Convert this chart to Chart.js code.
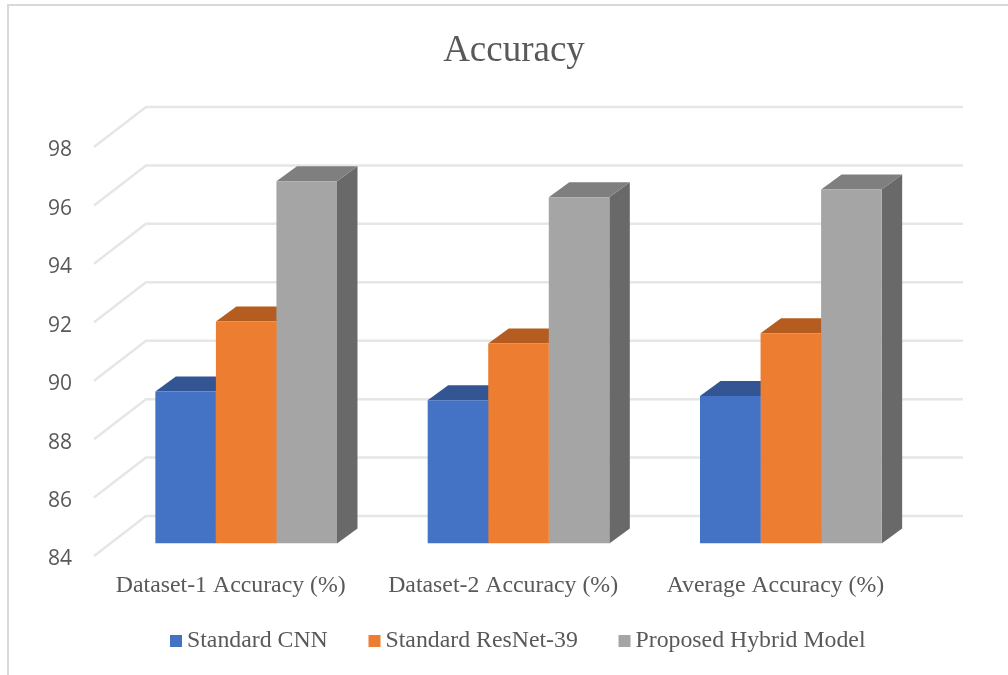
<!DOCTYPE html>
<html>
<head>
<meta charset="utf-8">
<style>
  html, body { margin: 0; padding: 0; background: #fff; overflow: hidden; }
  #wrap { position: relative; width: 1008px; height: 675px; }
  #frame { position: absolute; left: 7px; top: 4px; right: 0; bottom: 0;
           border-left: 2px solid #d9d9d9; border-top: 2px solid #d9d9d9; }
  canvas { position: absolute; left: 0; top: 0; }
</style>
<script src="https://cdn.jsdelivr.net/npm/chart.js@4"></script>
</head>
<body>
<div id="wrap">
  <div id="frame"></div>
  <canvas id="chart" width="1008" height="675"></canvas>
</div>
<script>
const categories = ['Dataset-1 Accuracy (%)', 'Dataset-2 Accuracy (%)', 'Average Accuracy (%)'];
const seriesNames = ['Standard CNN', 'Standard ResNet-39', 'Proposed Hybrid Model'];
const standardCnn = [89.2, 88.9, 89.05];
const standardResNet = [91.6, 90.85, 91.2];
const proposedHybrid = [96.4, 95.85, 96.12];
const frontColors = ['#4472c4', '#ed7d31', '#a5a5a5'];
const topColors = ['#335593', '#b55d20', '#7f7f7f'];
const sideColors = ['#2d4c85', '#a35420', '#696969'];
const axisMin = 84;
const axisMax = 98;
const axisStep = 2;

const TEXT = '#595959';
const SERIF = '"Liberation Serif", serif';

// Depth of the plot walls and of the bars, in pixels.
const WALL = { dx: 52, dy: -40 };
const BAR_OFFSET = { dx: 16, dy: -12.5 };
const BAR_DEPTH = { dx: 20.5, dy: -15 };

function poly(ctx, pts, fill) {
  ctx.beginPath();
  pts.forEach((p, i) => i ? ctx.lineTo(p[0], p[1]) : ctx.moveTo(p[0], p[1]));
  ctx.closePath();
  ctx.fillStyle = fill;
  ctx.fill();
}

// Nudges an axis' labels by a fixed amount when the scale paints them.
function nudgeLabels(scale, dx, dy) {
  if (scale.$nudged) return;
  scale.$nudged = true;
  const paint = scale.drawLabels;
  scale.drawLabels = function (area) {
    const c = this.ctx;
    c.save();
    c.translate(dx, dy);
    paint.call(this, area);
    c.restore();
  };
}

const depthPlugin = {
  id: 'depth',
  afterLayout(chart) {
    // Centre the title on the framed panel rather than on the plot.
    chart.titleBlock.left = 8;
    chart.titleBlock.right = 1020;
  },
  beforeDatasetsDraw(chart) {
    const { ctx, chartArea, scales } = chart;
    ctx.save();
    // Side wall and back wall rules at each tick value.
    ctx.strokeStyle = '#e6e6e6';
    ctx.lineWidth = 2.5;
    ctx.lineJoin = 'round';
    scales.y.ticks.forEach(t => {
      const y = scales.y.getPixelForValue(t.value);
      ctx.beginPath();
      ctx.moveTo(chartArea.left, y);
      ctx.lineTo(chartArea.left + WALL.dx, y + WALL.dy);
      ctx.lineTo(chartArea.right + WALL.dx, y + WALL.dy);
      ctx.stroke();
    });
    // Everything bar-related sits a little way into the plot.
    ctx.translate(BAR_OFFSET.dx, BAR_OFFSET.dy);
    // Top and right faces go first; the library then paints the front faces.
    chart.data.datasets.forEach((ds, di) => {
      chart.getDatasetMeta(di).data.forEach(bar => {
        const l = bar.x - bar.width / 2, r = bar.x + bar.width / 2;
        const dx = BAR_DEPTH.dx, dy = BAR_DEPTH.dy;
        poly(ctx, [[r, bar.y], [r + dx, bar.y + dy], [r + dx, bar.base + dy], [r, bar.base]], sideColors[di]);
        poly(ctx, [[l, bar.y], [l + dx, bar.y + dy], [r + dx, bar.y + dy], [r, bar.y]], topColors[di]);
      });
    });
  },
  afterDatasetsDraw(chart) {
    chart.ctx.restore();
  },
  afterDraw(chart) {
    // Legend row: small square swatches set close to their labels.
    const { ctx } = chart;
    const swatchX = [170, 368.5, 618.5];
    ctx.save();
    ctx.font = '23.8px ' + SERIF;
    ctx.textBaseline = 'middle';
    ctx.textAlign = 'left';
    chart.data.datasets.forEach((ds, i) => {
      ctx.fillStyle = ds.backgroundColor;
      ctx.fillRect(swatchX[i], 635, 12, 12);
      ctx.fillStyle = TEXT;
      ctx.fillText(ds.label, swatchX[i] + 17, 641);
    });
    ctx.restore();
  }
};

new Chart(document.getElementById('chart'), {
  type: 'bar',
  data: {
    labels: categories,
    datasets: [
      { label: seriesNames[0], data: standardCnn, backgroundColor: frontColors[0] },
      { label: seriesNames[1], data: standardResNet, backgroundColor: frontColors[1] },
      { label: seriesNames[2], data: proposedHybrid, backgroundColor: frontColors[2] }
    ]
  },
  options: {
    responsive: false,
    maintainAspectRatio: false,
    animation: false,
    layout: { padding: { left: 0, right: 97, top: 0, bottom: 0 } },
    datasets: { bar: { categoryPercentage: 0.667, barPercentage: 1, borderWidth: 0, base: axisMin } },
    plugins: {
      legend: { display: false },
      tooltip: { enabled: false },
      title: {
        display: true,
        text: 'Accuracy',
        color: TEXT,
        font: { family: SERIF, size: 37, weight: 'normal', lineHeight: 1.2 },
        padding: { top: 29, bottom: 73.6 }
      }
    },
    scales: {
      x: {
        grid: { display: false, drawTicks: false },
        border: { display: false },
        afterFit(s) { s.height = 119; },
        afterUpdate(s) { nudgeLabels(s, 0.6, 1); },
        ticks: {
          color: TEXT,
          font: { family: SERIF, size: 23.8, lineHeight: 1.2 },
          padding: 14.6,
          maxRotation: 0,
          autoSkip: false
        }
      },
      y: {
        min: axisMin,
        max: axisMax,
        grid: { display: false, drawTicks: false },
        border: { display: false },
        afterFit(s) { s.width = 94; },
        afterUpdate(s) { nudgeLabels(s, 0, 3.5); },
        ticks: {
          stepSize: axisStep,
          color: TEXT,
          font: { family: '"Open Sans", sans-serif', size: 21 },
          padding: 22
        }
      }
    }
  },
  plugins: [depthPlugin]
});
</script>
</body>
</html>
